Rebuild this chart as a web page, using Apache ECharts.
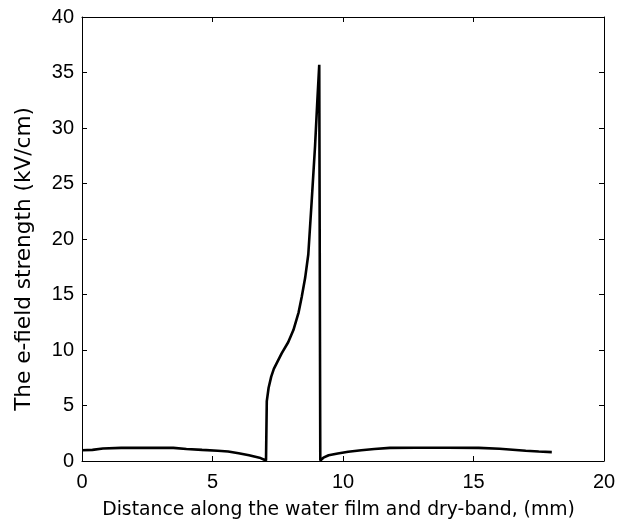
<!DOCTYPE html>
<html>
<head>
<meta charset="utf-8">
<script src="https://cdn.jsdelivr.net/npm/echarts@6/dist/echarts.min.js"></script>
<style>html,body{margin:0;padding:0;background:#fff}#c{width:626px;height:525px}</style>
</head>
<body>
<div id="c"></div>
<script>
const xTicks = [0, 5, 10, 15, 20];
const yTicks = [0, 5, 10, 15, 20, 25, 30, 35, 40];
const xValues = [0, 0.4, 0.8, 1.5, 2.5, 3.5, 4.0, 4.6, 5.2, 5.6, 6.0, 6.4, 6.8, 7.05,
  7.08, 7.15, 7.25, 7.35, 7.5, 7.65, 7.9, 8.1, 8.3, 8.42, 8.55, 8.67, 8.8, 8.93, 9.02, 9.09, 9.12,
  9.13, 9.25, 9.45, 9.8, 10.2, 10.7, 11.2, 11.8, 12.8, 14.0, 15.2, 16.0, 16.5, 17.0, 17.5, 18.0];
const yValues = [0.97, 1.0, 1.12, 1.18, 1.2, 1.18, 1.08, 1.0, 0.93, 0.85, 0.7, 0.52, 0.3, 0.05,
  5.4, 6.6, 7.6, 8.3, 9.0, 9.7, 10.7, 11.8, 13.4, 14.8, 16.5, 18.6, 23.4, 28.4, 32.6, 35.7, 35.7,
  0.05, 0.3, 0.52, 0.68, 0.83, 0.97, 1.08, 1.18, 1.2, 1.2, 1.18, 1.1, 1.02, 0.92, 0.85, 0.8];
const xTitle = 'Distance along the water film and dry-band, (mm)';
const yTitle = 'The e-field strength (kV/cm)';

const TICKFONT = "'Liberation Sans', Arial, sans-serif";
const TITLEFONT = "'DejaVu Sans', sans-serif";
const chart = echarts.init(document.getElementById('c'), null, {renderer: 'canvas'});
const axisLine = {show: true, onZero: false, lineStyle: {color: '#000', width: 1}};
const tick = {show: true, inside: true, length: 5, lineStyle: {color: '#000', width: 1}};
chart.setOption({
  animation: false,
  backgroundColor: '#fff',
  grid: {left: 82, right: 22, top: 17, bottom: 59, containLabel: false},
  xAxis: [{
    type: 'value', min: 0, max: 20, interval: 5, position: 'bottom',
    name: xTitle,
    nameLocation: 'middle', nameGap: 40,
    nameTextStyle: {fontFamily: TITLEFONT, fontSize: 18.8, color: '#000', padding: [0, 9, 0, 0]},
    axisLine: axisLine, axisTick: tick, splitLine: {show: false},
    axisLabel: {fontFamily: TICKFONT, fontSize: 20, color: '#000', margin: 11,
      formatter: v => xTicks.includes(v) ? String(v) : ''}
  }, {
    type: 'value', min: 0, max: 20, interval: 5, position: 'top',
    axisLine: axisLine, axisTick: tick, splitLine: {show: false}, axisLabel: {show: false}
  }],
  yAxis: [{
    type: 'value', min: 0, max: 40, interval: 5, position: 'left',
    name: yTitle,
    nameLocation: 'middle', nameGap: 47,
    nameTextStyle: {fontFamily: TITLEFONT, fontSize: 21.6, color: '#000', padding: [0, 40, 0, 0]},
    axisLine: axisLine, axisTick: tick, splitLine: {show: false},
    axisLabel: {fontFamily: TICKFONT, fontSize: 20, color: '#000', margin: 8,
      formatter: v => yTicks.includes(v) ? String(v) : ''}
  }, {
    type: 'value', min: 0, max: 40, interval: 5, position: 'right',
    axisLine: axisLine, axisTick: tick, splitLine: {show: false}, axisLabel: {show: false}
  }],
  series: [{
    type: 'line',
    data: xValues.map((x, i) => [x, yValues[i]]),
    showSymbol: false, smooth: false,
    lineStyle: {color: '#000', width: 2.6},
    clip: true
  }]
});
</script>
</body>
</html>
